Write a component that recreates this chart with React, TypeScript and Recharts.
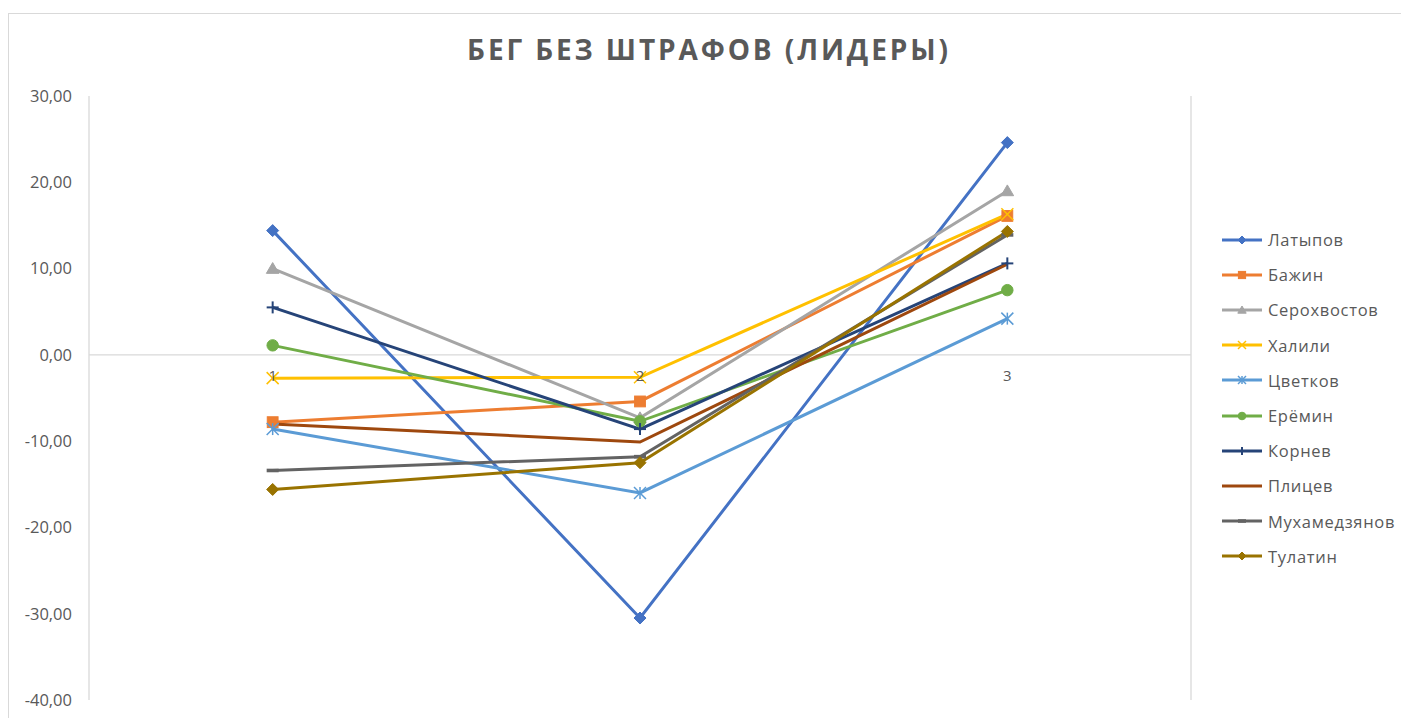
import React from 'react';
import { LineChart, Line, XAxis, YAxis, CartesianGrid, Legend, ReferenceLine, ReferenceDot } from 'recharts';

const categories = ['1', '2', '3'];
const seriesNames = ['Латыпов', 'Бажин', 'Серохвостов', 'Халили', 'Цветков', 'Ерёмин', 'Корнев', 'Плицев', 'Мухамедзянов', 'Тулатин'];
const latypov = [14.4, -30.5, 24.6];
const bazhin = [-7.8, -5.4, 16.1];
const serokhvostov = [10.0, -7.3, 19.0];
const khalili = [-2.7, -2.6, 16.3];
const tsvetkov = [-8.6, -16.0, 4.2];
const eremin = [1.1, -7.7, 7.5];
const kornev = [5.5, -8.6, 10.6];
const plitsev = [-8.0, -10.1, 10.5];
const mukhamedzyanov = [-13.4, -11.8, 13.9];
const tulatin = [-15.6, -12.5, 14.3];
const yTicks = [-40, -30, -20, -10, 0, 10, 20, 30];
const gridTicks = [0.5, 1.5, 2.5, 3.5];

const seriesValues = [latypov, bazhin, serokhvostov, khalili, tsvetkov, eremin, kornev, plitsev, mukhamedzyanov, tulatin];
const colors = ['#4472C4', '#ED7D31', '#A5A5A5', '#FFC000', '#5B9BD5', '#70AD47', '#264478', '#9E480E', '#636363', '#997300'];
const markers = ['diamond', 'square', 'triangle', 'x', 'star', 'circle', 'plus', 'none', 'dash', 'diamond'];

const data = categories.map((c, i) => {
  const row: any = { x: i + 1, label: c };
  seriesNames.forEach((n, k) => { row[n] = seriesValues[k][i]; });
  return row;
});

const FONT = '"Open Sans", "Noto Sans", sans-serif';
const TEXT = '#595959';

function Marker({ kind, color, cx, cy, s }: { kind: string; color: string; cx: number; cy: number; s: number }) {
  switch (kind) {
    case 'diamond':
      return <polygon points={`${cx},${cy - s} ${cx + s},${cy} ${cx},${cy + s} ${cx - s},${cy}`} fill={color} stroke={color} strokeWidth={1} />;
    case 'square':
      return <rect x={cx - s * 0.9} y={cy - s * 0.9} width={s * 1.8} height={s * 1.8} fill={color} stroke={color} />;
    case 'triangle':
      return <polygon points={`${cx},${cy - s} ${cx + s * 1.05},${cy + s * 0.8} ${cx - s * 1.05},${cy + s * 0.8}`} fill={color} stroke={color} />;
    case 'x':
      return (
        <g stroke={color} strokeWidth={1.5}>
          <line x1={cx - s} y1={cy - s} x2={cx + s} y2={cy + s} />
          <line x1={cx - s} y1={cy + s} x2={cx + s} y2={cy - s} />
        </g>
      );
    case 'star':
      return (
        <g stroke={color} strokeWidth={1.5}>
          <line x1={cx - s} y1={cy - s} x2={cx + s} y2={cy + s} />
          <line x1={cx - s} y1={cy + s} x2={cx + s} y2={cy - s} />
          <line x1={cx} y1={cy - s} x2={cx} y2={cy + s} />
        </g>
      );
    case 'circle':
      return <circle cx={cx} cy={cy} r={s * 0.95} fill={color} stroke={color} />;
    case 'plus':
      return (
        <g stroke={color} strokeWidth={2}>
          <line x1={cx - s} y1={cy} x2={cx + s} y2={cy} />
          <line x1={cx} y1={cy - s} x2={cx} y2={cy + s} />
        </g>
      );
    case 'dash':
      return <rect x={cx - s} y={cy - 1.8} width={s * 2} height={3.6} fill={color} />;
    default:
      return null;
  }
}

const makeDot = (kind: string, color: string) => (props: any) => {
  const { cx, cy, index } = props;
  if (cx == null || cy == null) return <g key={index} />;
  return <g key={index}><Marker kind={kind} color={color} cx={cx} cy={cy} s={6} /></g>;
};

const LegendContent = () => (
  <div style={{ fontFamily: FONT, fontSize: 16.5, color: TEXT, letterSpacing: 0.7 }}>
    {seriesNames.map((n, i) => (
      <div key={n} style={{ height: 35.2, display: 'flex', alignItems: 'center' }}>
        <svg width={44} height={14} style={{ display: 'block' }}>
          <line x1={0} y1={7} x2={40} y2={7} stroke={colors[i]} strokeWidth={2.8} />
          <Marker kind={markers[i]} color={colors[i]} cx={20} cy={7} s={4} />
        </svg>
        <span style={{ marginLeft: 2 }}>{n}</span>
      </div>
    ))}
  </div>
);

const fmt = (v: number) => v.toFixed(2).replace('.', ',');

export default function App() {
  return (
    <div style={{ position: 'absolute', left: 0, top: 0, width: 1401, height: 718, overflow: 'hidden', background: '#fff' }}>
      <div style={{ position: 'absolute', left: 8, top: 13, width: 1420, height: 740, border: '1px solid #D9D9D9', boxSizing: 'border-box' }} />
      <div style={{ position: 'absolute', left: 0, top: 35, width: 1418, textAlign: 'center', fontFamily: FONT, fontWeight: 700, fontSize: 28, lineHeight: '28px', letterSpacing: 2.9, color: TEXT }}>
        БЕГ БЕЗ ШТРАФОВ (ЛИДЕРЫ)
      </div>
      <div style={{ position: 'absolute', left: 0, top: 0 }}>
        <LineChart width={1401} height={718} data={data} margin={{ top: 96, right: 210, bottom: 18, left: 19 }}>
          <CartesianGrid horizontal={false} vertical={true} stroke="#D9D9D9" strokeWidth={1.3} />
          <XAxis dataKey="x" type="number" domain={[0.5, 3.5]} ticks={gridTicks} tick={false} axisLine={false} tickLine={false} height={0} />
          <YAxis type="number" domain={[-40, 30]} ticks={yTicks} width={70} axisLine={false} tickLine={false} tickMargin={11} tickFormatter={fmt} tick={{ fill: TEXT, fontSize: 16.5, fontFamily: FONT }} interval={0} />
          <ReferenceLine y={0} stroke="#D9D9D9" strokeWidth={1.3} />
          {categories.map((c, i) => (
            <ReferenceDot key={c} x={i + 1} y={0} r={0} fill="none" stroke="none" label={{ value: c, position: 'bottom', offset: 15, fill: TEXT, fontSize: 15, fontFamily: FONT }} />
          ))}
          <Legend layout="horizontal" verticalAlign="middle" align="center" wrapperStyle={{ left: 1222, top: 222, width: 179, height: 352 }} content={<LegendContent />} />
          {seriesNames.map((n, i) => (
            <Line key={n} dataKey={n} stroke={colors[i]} strokeWidth={3} isAnimationActive={false} dot={makeDot(markers[i], colors[i])} activeDot={false} />
          ))}
        </LineChart>
      </div>
    </div>
  );
}
